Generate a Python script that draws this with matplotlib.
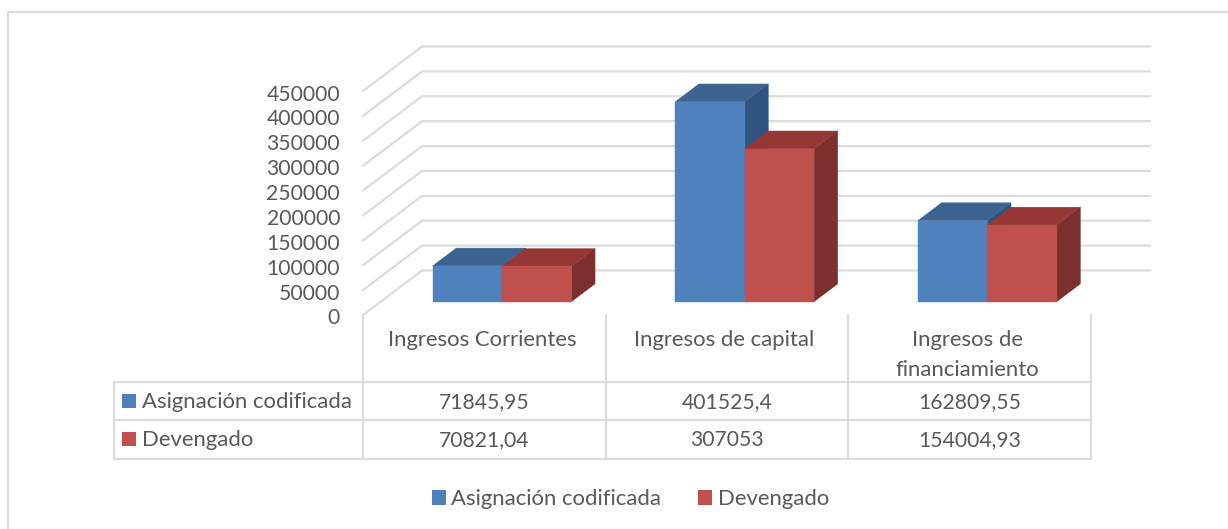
import matplotlib
matplotlib.use("Agg")
import matplotlib.pyplot as plt
from matplotlib.patches import Polygon, Patch
from matplotlib.lines import Line2D

plt.rcParams['font.family'] = ['Lato', 'DejaVu Sans']

categories = ["Ingresos Corrientes", "Ingresos de capital", "Ingresos de\nfinanciamiento"]
series_names = ["Asignación codificada", "Devengado"]
asignacion = [71845.95, 401525.4, 162809.55]
devengado = [70821.04, 307053, 154004.93]
asignacion_labels = ["71845,95", "401525,4", "162809,55"]
devengado_labels = ["70821,04", "307053", "154004,93"]
y_ticks = [0, 50000, 100000, 150000, 200000, 250000, 300000, 350000, 400000, 450000]

W, H = 1228, 529
GRID = "#dcdcdc"
TXT = "#595959"
FACE = [("#4F81BD", "#3D6390", "#2F5480"), ("#C0504D", "#943735", "#7B2F2E")]
FS_WORD = 15.9
FS_NUM = 15.2

fig = plt.figure(figsize=(W / 100, H / 100), dpi=100)
bg = fig.add_axes([0, 0, 1, 1])
bg.set_xlim(0, W); bg.set_ylim(H, 0); bg.axis("off")

X0, X1, Y0, YT = 363, 1091, 315, 91
ax = fig.add_axes([X0 / W, 1 - Y0 / H, (X1 - X0) / W, (Y0 - YT) / H])
ax.set_xlim(0, 3); ax.set_ylim(0, 450000); ax.axis("off")
ax.patch.set_alpha(0)

ppx = 3 / (X1 - X0)
ppy = 450000 / (Y0 - YT)
DX, DY = 59 * ppx, 44.5 * ppy


def proj(x, y, d):
    return x + d * DX, y + d * DY


for t in y_ticks:
    a = proj(0, t, 0); b = proj(0, t, 1); c = proj(3, t, 1)
    ax.plot([a[0], b[0], c[0]], [a[1], b[1], c[1]], color=GRID, lw=1.6,
            clip_on=False, solid_joinstyle="miter", zorder=1)
    ax.annotate(f"{t}", xy=(0, t), xytext=(-23, -3.5), textcoords="offset pixels",
                ha="right", va="center", fontsize=FS_NUM, color=TXT, annotation_clip=False)

BW = 0.286
D0, D1 = 0.30, 0.70


def box(xl, xr, v, cols):
    pts_side = [proj(xr, 0, D0), proj(xr, 0, D1), proj(xr, v, D1), proj(xr, v, D0)]
    pts_top = [proj(xl, v, D0), proj(xl, v, D1), proj(xr, v, D1), proj(xr, v, D0)]
    pts_front = [proj(xl, 0, D0), proj(xr, 0, D0), proj(xr, v, D0), proj(xl, v, D0)]
    for pts, col in zip((pts_side, pts_top, pts_front), (cols[2], cols[1], cols[0])):
        ax.add_patch(Polygon(pts, closed=True, facecolor=col, edgecolor=col, lw=0.3,
                             clip_on=False, zorder=2))


for i in range(len(categories)):
    c = i + 0.5
    box(c - BW, c, asignacion[i], FACE[0])
    box(c, c + BW, devengado[i], FACE[1])

XL = 113.5
col_x = [X0 + i * (X1 - X0) / 3 for i in range(4)]
rows_y = [382, 420, 458.5]
for y in rows_y:
    bg.add_line(Line2D([XL, X1], [y, y], color=GRID, lw=1.6))
for x in col_x:
    bg.add_line(Line2D([x, x], [Y0, rows_y[-1]], color=GRID, lw=1.6))
bg.add_line(Line2D([XL, XL], [rows_y[0], rows_y[-1]], color=GRID, lw=1.6))

for i, cat in enumerate(categories):
    cx = (col_x[i] + col_x[i + 1]) / 2
    if "\n" in cat:
        bg.text(cx - 2.5, 355, cat, ha="center", va="center", fontsize=FS_WORD, color=TXT, linespacing=1.62)
    else:
        bg.text(cx - 2.5, 340, cat, ha="center", va="center", fontsize=FS_WORD, color=TXT)
    bg.text(cx, 402, asignacion_labels[i], ha="center", va="center", fontsize=FS_NUM, color=TXT)
    bg.text(cx, 440.5, devengado_labels[i], ha="center", va="center", fontsize=FS_NUM, color=TXT)

for name, y, col in zip(series_names, (401, 439), (FACE[0][0], FACE[1][0])):
    bg.add_patch(Polygon([(122, y - 7), (136, y - 7), (136, y + 7), (122, y + 7)], closed=True,
                         facecolor=col, edgecolor="none"))
    bg.text(141.5, y + 0.5, name, ha="left", va="center", fontsize=FS_WORD, color=TXT)

bg.add_line(Line2D([8, 8, W], [H, 11.5, 11.5], color=GRID, lw=1.6))

handles = [Patch(facecolor=FACE[0][0], edgecolor="none", label=series_names[0]),
           Patch(facecolor=FACE[1][0], edgecolor="none", label=series_names[1])]
bg.legend(handles=handles, loc="center", bbox_to_anchor=(630.5 / W, 1 - 499 / H),
          bbox_transform=fig.transFigure, ncol=2, frameon=False, fontsize=FS_WORD,
          labelcolor=TXT, handlelength=0.64, handleheight=0.64, handletextpad=0.23,
          columnspacing=1.68)

fig.savefig("out.png", dpi=100)
